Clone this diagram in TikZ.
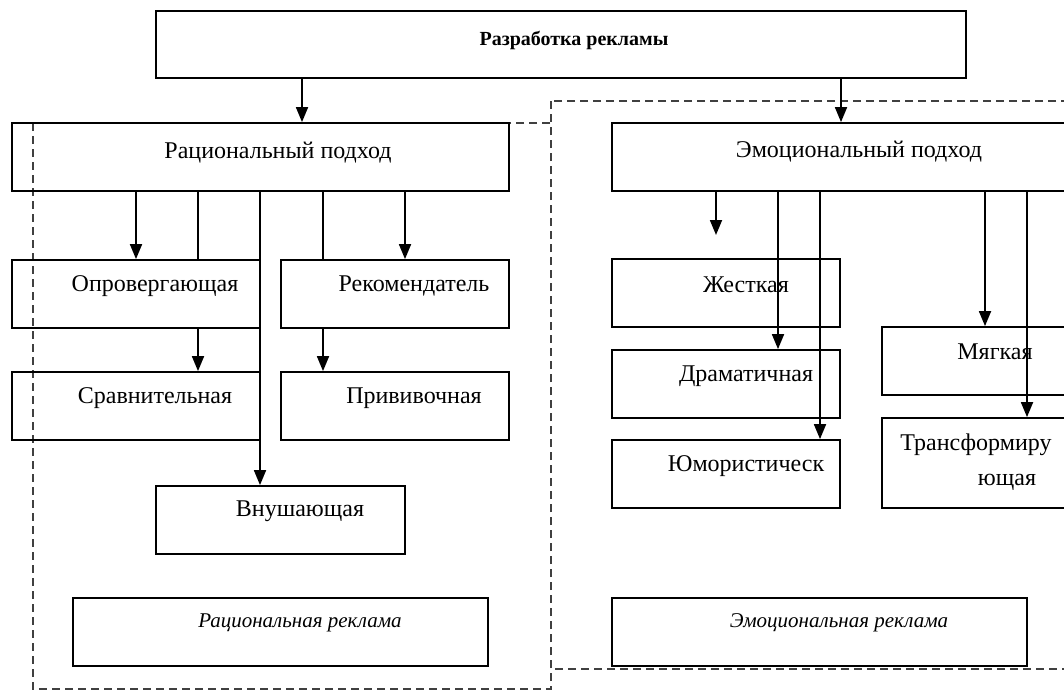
\documentclass[tikz,border=0pt]{standalone}
\usepackage{fontspec}
\setmainfont{Liberation Serif}
\usetikzlibrary{arrows.meta}

\tikzset{
  blok/.style={draw, line width=0.9pt, inner sep=0pt, minimum height=34pt},
  tekst/.style={font=\fontsize{12}{14}\selectfont},
  kursiv/.style={font=\fontsize{10.5}{12}\selectfont\itshape},
  strelka/.style={line width=0.9pt, -{Triangle[length=7.5pt,width=6pt]}},
  liniya/.style={line width=0.9pt},
  ramka/.style={draw=black!75, line width=0.7pt, dash pattern=on 4pt off 2.5pt}
}

\begin{document}
\begin{tikzpicture}[x=0.5pt, y=-0.5pt]
    \useasboundingbox (0,0) rectangle (1064,691);
    \clip (0,0) rectangle (1064,691);

    \draw[ramka] (33,123) rectangle (551,689);
    \draw[ramka] (551,101) rectangle (1100,669);

    \node[blok, minimum width=405pt, minimum height=33.5pt] (razr) at (561,44.5) {};
    \node[font=\fontsize{10}{12}\selectfont\bfseries] (razr-t) at (574,40) {Разработка рекламы};

    \node[blok, minimum width=248.5pt] (rac) at (260.5,157) {};
    \node[tekst] (rac-t) at (278,153) {Рациональный подход};
    \node[blok, minimum width=239pt] (emo) at (851,157) {};
    \node[tekst] (emo-t) at (859,152) {Эмоциональный подход};

    \node[blok, minimum width=124pt] (opr) at (136,294) {};
    \node[tekst] (opr-t) at (155,286) {Опровергающая};
    \node[blok, minimum width=114pt] (rek) at (395,294) {};
    \node[tekst] (rek-t) at (414,286) {Рекомендатель};
    \node[blok, minimum width=124pt] (srav) at (136,406) {};
    \node[tekst] (srav-t) at (155,398) {Сравнительная};
    \node[blok, minimum width=114pt] (priv) at (395,406) {};
    \node[tekst] (priv-t) at (414,398) {Прививочная};
    \node[blok, minimum width=124.5pt] (vnush) at (280.5,520) {};
    \node[tekst] (vnush-t) at (300,511) {Внушающая};
    \node[blok, minimum width=207.5pt] (racr) at (280.5,632) {};
    \node[kursiv] (racr-t) at (300,623) {Рациональная реклама};

    \node[blok, minimum width=114pt] (zhest) at (726,293) {};
    \node[tekst] (zhest-t) at (746,285) {Жесткая};
    \node[blok, minimum width=114pt] (drama) at (726,384) {};
    \node[tekst] (drama-t) at (746,376) {Драматичная};
    \node[blok, minimum width=114pt] (yumor) at (726,474) {};
    \node[tekst] (yumor-t) at (746,466) {Юмористическ};
    \node[blok, minimum width=104pt] (myag) at (986,361) {};
    \node[tekst] (myag-t) at (995,352) {Мягкая};
    \node[blok, minimum width=104pt, minimum height=45pt] (transf) at (986,463) {};
    \node[tekst] (transf-t1) at (976,445) {Трансформиру};
    \node[tekst] (transf-t2) at (1007,482) {ющая};
    \node[blok, minimum width=207.5pt] (emor) at (819.5,632) {};
    \node[kursiv] (emor-t) at (839,623) {Эмоциональная реклама};

    \coordinate (v1) at (302,0);
    \coordinate (v2) at (841,0);
    \draw[strelka] (razr.south -| v1) -- (rac.north -| v1);
    \draw[strelka] (razr.south -| v2) -- (emo.north -| v2);

    \coordinate (r1) at (198,0);
    \coordinate (r2) at (260,0);
    \coordinate (r3) at (323,0);
    \coordinate (r4) at (405,0);
    \draw[strelka] (rac.south -| opr) -- (opr.north);
    \draw[liniya] (rac.south -| r1) -- (opr.north -| r1);
    \draw[strelka] (opr.south -| r1) -- (srav.north -| r1);
    \draw[strelka] (rac.south -| r2) -- (vnush.north -| r2);
    \draw[liniya] (rac.south -| r3) -- (rek.north -| r3);
    \draw[strelka] (rek.south -| r3) -- (priv.north -| r3);
    \draw[strelka] (rac.south -| r4) -- (rek.north -| r4);

    \coordinate (zh-v) at (716,235);
    \coordinate (e1) at (778,0);
    \coordinate (e2) at (820,0);
    \coordinate (e3) at (985,0);
    \coordinate (e4) at (1027,0);
    \draw[strelka] (emo.south -| zh-v) -- (zh-v);
    \draw[strelka] (emo.south -| e1) -- (drama.north -| e1);
    \draw[strelka] (emo.south -| e2) -- (yumor.north -| e2);
    \draw[strelka] (emo.south -| e3) -- (myag.north -| e3);
    \draw[strelka] (emo.south -| e4) -- (transf.north -| e4);
\end{tikzpicture}
\end{document}
